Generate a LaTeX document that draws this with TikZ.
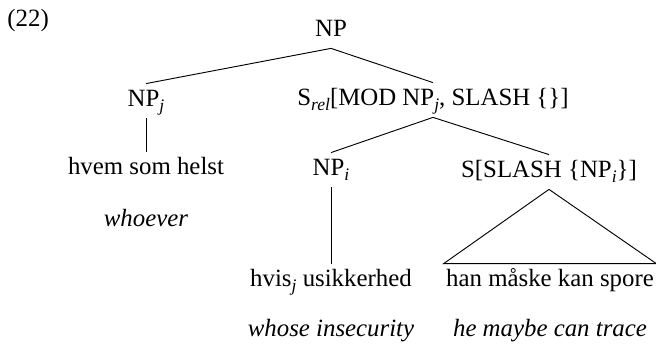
\documentclass[tikz,border=0pt]{standalone}
\usepackage{fontspec}
\setmainfont{Liberation Serif}
% italic subscript for indices such as j, i, rel, set low like a math subscript
\newcommand{\lsub}[1]{\raisebox{-0.2em}{\fontsize{8.5}{9}\selectfont\itshape #1}}
\begin{document}
\begin{tikzpicture}[x=0.483pt,y=-0.483pt,
  every node/.style={font=\fontsize{12}{14}\selectfont, inner sep=0pt},
  cat/.style={anchor=base, text height=9pt, text depth=3.2pt, inner ysep=2.1pt, inner xsep=1pt},
  gloss/.style={anchor=base, font=\fontsize{12}{14}\selectfont\itshape},
  branch/.style={line width=0.45pt}]
\useasboundingbox (0,0) rectangle (656,344);

% example number
\node[anchor=base west] (ex) at (7,27) {(22)};

% tree nodes
\node[cat] (np) at (331,37) {NP};
\node[cat] (npj) at (146,107) {NP\lsub{j}};
\node[cat] (srel) at (433,106) {S\lsub{rel}[MOD NP\lsub{j}, SLASH \{\}]};
\node[cat] (hvem) at (146,175) {hvem som helst};
\node[cat] (npi) at (331,176) {NP\lsub{i}};
\node[cat] (sslash) at (549,178) {S[SLASH \{NP\lsub{i}\}]};
\node[cat] (hvis) at (331,287) {hvis\lsub{j} usikkerhed};
\node[cat] (han) at (550,287) {han måske kan spore};

% glosses
\node[gloss] (g1) at (146,227) {whoever};
\node[gloss] (g2) at (331,337) {whose insecurity};
\node[gloss] (g3) at (550,337) {he maybe can trace};

% branches
\draw[branch] (np.south) -- (npj.north);
\draw[branch] (np.south) -- (srel.north);
\draw[branch] (npj.south) -- (hvem.north);
\draw[branch] (srel.south) -- (npi.north);
\draw[branch] (srel.south) -- (sslash.north);
\draw[branch] (npi.south) -- (hvis.north);
\draw[branch] (sslash.south) -- (han.north west) -- (han.north east) -- cycle;
\end{tikzpicture}
\end{document}
